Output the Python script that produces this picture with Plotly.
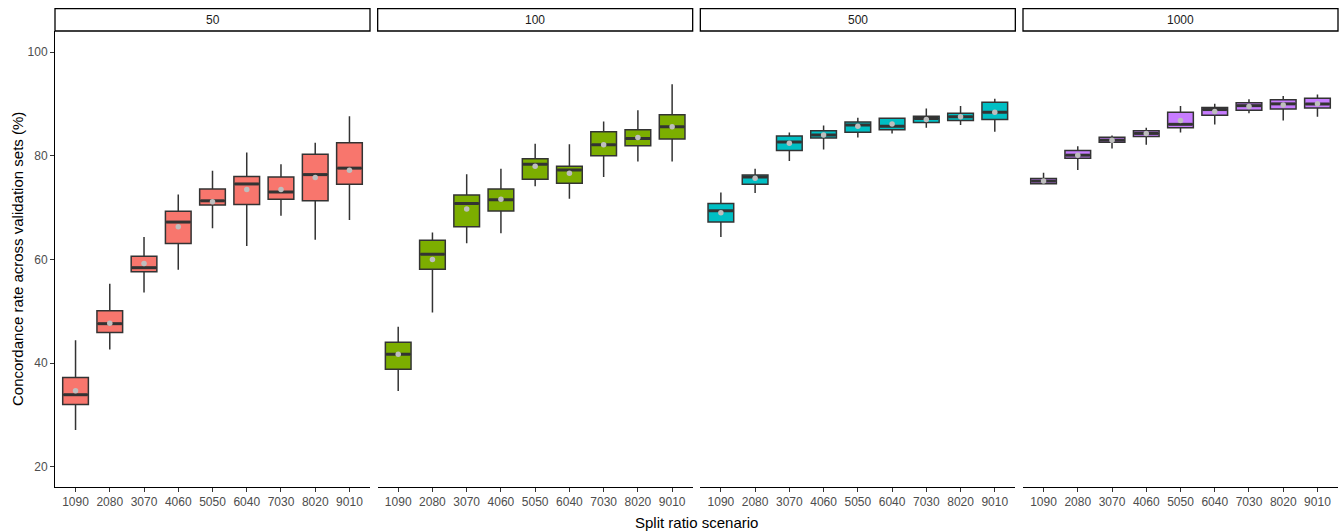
import plotly.graph_objects as go

categories = ["1090", "2080", "3070", "4060", "5050", "6040", "7030", "8020", "9010"]
facets = ["50", "100", "500", "1000"]
colors = ["#F8766D", "#7CAE00", "#00BFC4", "#C77CFF"]

lower_50 = [27.1, 42.6, 53.6, 58.0, 66.0, 62.6, 68.4, 63.8, 67.6]
q1_50 = [32.0, 45.9, 57.6, 63.05, 70.5, 70.6, 71.6, 71.3, 74.5]
median_50 = [33.9, 47.6, 58.4, 67.2, 71.3, 74.55, 73.0, 76.35, 77.6]
q3_50 = [37.2, 50.1, 60.6, 69.3, 73.6, 76.0, 75.9, 80.3, 82.5]
upper_50 = [44.4, 55.3, 64.3, 72.5, 77.1, 80.6, 78.35, 82.5, 87.6]
mean_50 = [34.65, 47.7, 59.2, 66.3, 71.1, 73.5, 73.5, 75.8, 77.2]

lower_100 = [34.6, 49.75, 63.1, 65.05, 74.1, 71.7, 75.9, 78.9, 78.9]
q1_100 = [38.8, 58.1, 66.3, 69.35, 75.45, 74.7, 80.0, 81.9, 83.2]
median_100 = [41.7, 61.0, 70.8, 71.5, 78.35, 77.25, 82.1, 83.3, 85.6]
q3_100 = [44.0, 63.7, 72.4, 73.6, 79.4, 77.96, 84.6, 85.0, 87.9]
upper_100 = [47.0, 65.2, 76.4, 77.5, 82.3, 82.2, 86.6, 88.75, 93.8]
mean_100 = [41.7, 59.97, 69.7, 71.6, 77.96, 76.6, 82.1, 83.5, 85.6]

lower_500 = [64.3, 72.8, 79.0, 81.2, 83.5, 84.3, 85.4, 85.9, 84.6]
q1_500 = [67.2, 74.5, 81.0, 83.4, 84.5, 85.0, 86.4, 86.8, 87.0]
median_500 = [69.4, 75.9, 82.65, 84.0, 85.9, 85.7, 87.15, 87.5, 88.4]
q3_500 = [70.8, 76.3, 83.8, 84.8, 86.5, 87.2, 87.6, 88.2, 90.3]
upper_500 = [72.9, 77.5, 84.45, 85.8, 87.3, 87.3, 89.1, 89.6, 91.0]
mean_500 = [69.0, 75.65, 82.4, 84.0, 85.7, 86.1, 87.0, 87.5, 88.4]

lower_1000 = [74.6, 77.25, 81.4, 82.1, 84.45, 86.0, 88.2, 86.8, 87.5]
q1_1000 = [74.6, 79.5, 82.6, 83.7, 85.4, 87.8, 88.75, 89.0, 89.2]
median_1000 = [75.1, 80.1, 83.0, 84.3, 86.05, 88.9, 89.65, 90.0, 89.97]
q3_1000 = [75.6, 81.0, 83.55, 84.8, 88.4, 89.3, 90.2, 90.8, 91.1]
upper_1000 = [76.7, 81.8, 83.9, 85.4, 89.6, 90.0, 90.9, 91.5, 91.8]
mean_1000 = [75.1, 80.1, 83.0, 84.3, 86.8, 88.5, 89.5, 89.8, 90.0]

y_ticks = [20, 40, 60, 80, 100]

stats = [
    (lower_50, q1_50, median_50, q3_50, upper_50, mean_50),
    (lower_100, q1_100, median_100, q3_100, upper_100, mean_100),
    (lower_500, q1_500, median_500, q3_500, upper_500, mean_500),
    (lower_1000, q1_1000, median_1000, q3_1000, upper_1000, mean_1000),
]

# layout geometry (pixels)
W, H = 1344, 531
left, right = 55, 1338
top, bottom = 30.7, 486.7
pw = 315.0
gap = (right - left - 4 * pw) / 3.0
plot_w = right - left
plot_h = bottom - top
box_w = 0.75
box_px = box_w * pw / 9.2

fig = go.Figure()
line_col = "#333333"

for i, (lo, q1, med, q3, up, mn) in enumerate(stats):
    xa = "x" if i == 0 else f"x{i+1}"
    fig.add_trace(go.Box(
        x=categories, q1=q1, median=med, q3=q3, lowerfence=lo, upperfence=up,
        fillcolor=colors[i], line=dict(color=line_col, width=1.5),
        width=box_w, whiskerwidth=0, boxpoints=False, showlegend=False,
        xaxis=xa, yaxis="y", hoverinfo="skip",
    ))
    # thicker median line
    fig.add_trace(go.Scatter(
        x=categories, y=med, mode="markers",
        marker=dict(symbol="line-ew", size=(box_px - 1.5) / 1.4,
                    line=dict(color=line_col, width=3)),
        showlegend=False, xaxis=xa, yaxis="y", hoverinfo="skip",
    ))
    # mean points
    fig.add_trace(go.Scatter(
        x=categories, y=mn, mode="markers",
        marker=dict(symbol="circle", size=5.5, color="#BEBEBE"),
        showlegend=False, xaxis=xa, yaxis="y", hoverinfo="skip",
    ))

layout = dict(
    width=W, height=H, autosize=False,
    margin=dict(l=left, r=W - right, t=top, b=H - bottom, pad=0, autoexpand=False),
    plot_bgcolor="white", paper_bgcolor="white",
    font=dict(family="Liberation Sans, Arial, sans-serif", color="black"),
    yaxis=dict(
        range=[16.1, 104.05], tickvals=y_ticks, ticks="outside", ticklen=4,
        tickcolor="#333333", tickwidth=1, showline=True, linecolor="black", linewidth=1,
        showgrid=False, zeroline=False, automargin=False,
        tickfont=dict(size=12, color="#4D4D4D"),
    ),
)

shapes = []
annotations = []
for i in range(4):
    x0 = (i * (pw + gap)) / plot_w
    x1 = (i * (pw + gap) + pw) / plot_w
    key = "xaxis" if i == 0 else f"xaxis{i+1}"
    layout[key] = dict(
        domain=[x0, x1], type="category", range=[-0.6, 8.6],
        ticks="outside", ticklen=4, tickcolor="#333333", tickwidth=1,
        showline=True, linecolor="black", linewidth=1, showgrid=False,
        zeroline=False, automargin=False, tickfont=dict(size=12, color="#4D4D4D"),
        anchor="y",
    )
    shapes.append(dict(
        type="rect", xref="paper", yref="paper",
        x0=x0, x1=x1, y0=1.0, y1=1.0 + 22.4 / plot_h,
        line=dict(color="black", width=1.3), fillcolor="white", layer="above",
    ))
    annotations.append(dict(
        text=facets[i], xref="paper", yref="paper",
        x=(x0 + x1) / 2, y=1.0 + 11.2 / plot_h, showarrow=False,
        xanchor="center", yanchor="middle",
        font=dict(size=12, color="#1A1A1A"),
    ))

annotations.append(dict(
    text="Split ratio scenario", xref="paper", yref="paper",
    x=0.5, y=-(522 - bottom) / plot_h, showarrow=False,
    xanchor="center", yanchor="middle", font=dict(size=15, color="black"),
))
annotations.append(dict(
    text="Concordance rate across validation sets (%)", xref="paper", yref="paper",
    x=-(left - 17) / plot_w, y=0.5, showarrow=False, textangle=-90,
    xanchor="center", yanchor="middle", font=dict(size=15, color="black"),
))

layout["shapes"] = shapes
layout["annotations"] = annotations
fig.update_layout(**layout)

fig.write_html(
    "out.html",
    config={"displayModeBar": False},
    post_script="document.body.style.margin='0';document.body.style.padding='0';"
                "document.documentElement.style.overflow='hidden';",
)
